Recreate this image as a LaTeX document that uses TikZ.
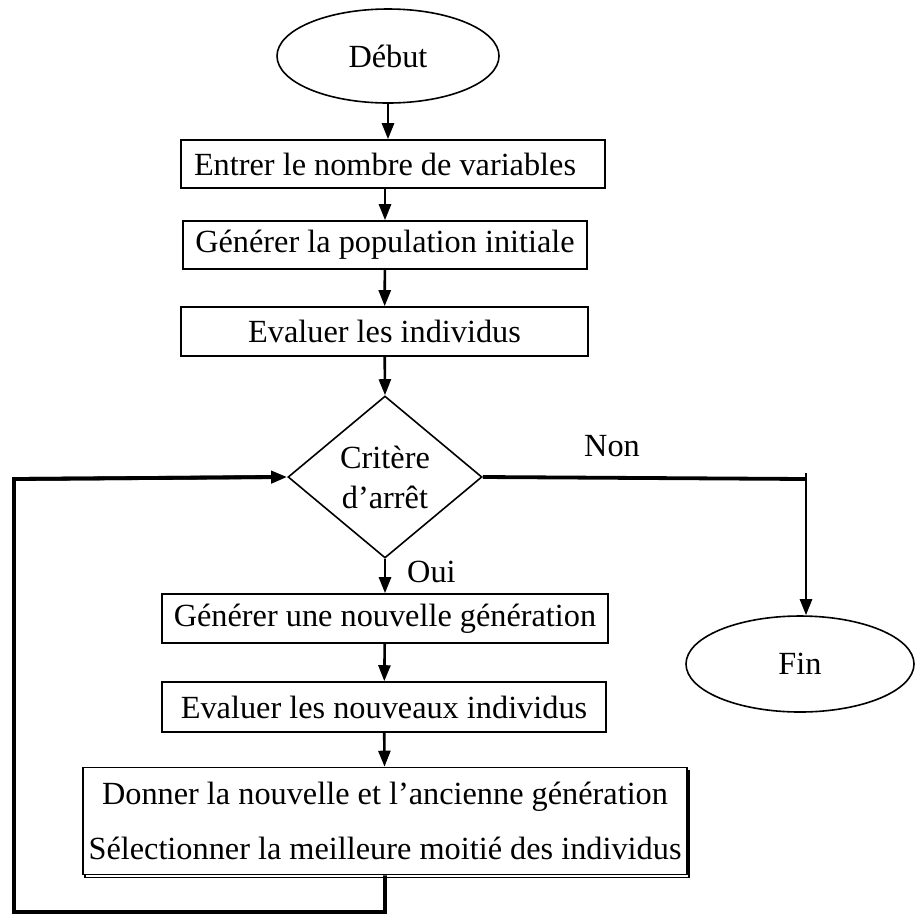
\documentclass[tikz,border=0pt]{standalone}
\usepackage{fontspec}
\setmainfont{Liberation Serif}
\usetikzlibrary{shapes.geometric,arrows.meta,shadows}
\begin{document}
\begin{tikzpicture}[x=1pt,y=-1pt,
  every node/.style={font=\fontsize{32.3}{40}\selectfont},
  procbox/.style={draw, line width=1.6pt, inner sep=0pt, fill=white},
  term/.style={draw, ellipse, line width=1.6pt, inner sep=0pt},
  flow/.style={line width=2.6pt, -{Triangle[length=16pt,width=12pt]}},
  thickflow/.style={line width=3.8pt, line join=miter},
  lbl/.style={inner sep=0pt}]
\useasboundingbox (0,0) rectangle (915,914);

\node[term, minimum width=222pt, minimum height=94pt] (debut) at (388,56) {Début};
\node[procbox, inner xsep=13pt, minimum height=48pt] (b1) at (393,164) {\makebox[398pt][l]{Entrer le nombre de variables}};
\node[procbox, minimum width=404pt, minimum height=48pt] (b2) at (385,245) {Générer la population initiale};
\node[procbox, minimum width=407pt, minimum height=49pt] (b3) at (384.5,331.5) {Evaluer les individus};
\node[draw, diamond, line width=1.6pt, inner sep=0pt, minimum width=194pt, minimum height=162pt, align=center] (crit) at (385,477) {Critère\\d’arrêt};
\node[procbox, minimum width=446pt, minimum height=49pt] (b4) at (385,618.5) {Générer une nouvelle génération};
\node[procbox, minimum width=444pt, minimum height=50pt] (b5) at (384,707) {Evaluer les nouveaux individus};
\node[procbox, minimum width=604pt, minimum height=107pt, align=center,
      font=\fontsize{32.3}{55}\selectfont,
      copy shadow={shadow xshift=2pt, shadow yshift=-3pt}] (b6) at (385,821)
      {Donner la nouvelle et l’ancienne génération\\Sélectionner la meilleure moitié des individus};
\node[term, minimum width=228pt, minimum height=96pt] (fin) at (800,664) {Fin};

\node[lbl] (non) at (612,446) {Non};
\node[lbl, anchor=west] (oui) at (407,572) {Oui};

\coordinate (c1) at (385,912);
\coordinate (c2) at (14,912);
\coordinate (c3) at (14,479);
\coordinate (c4) at (806,479);

\draw[flow] (debut) -- (debut |- b1.north);
\draw[flow] (385,0 |- b1.south) -- (b2);
\draw[flow] (b2) -- (b3);
\draw[flow] (b3) -- (crit.north);
\draw[flow] (crit.south) -- (b4);
\draw[flow] (b4) -- (b5);
\draw[flow] (b5) -- (b6);

\draw[thickflow] (b6.south) -- (c1) -- (c2) -- (c3) -- ([xshift=-14pt]crit.west);
\draw[flow, line width=3.8pt] (c3) -- (crit.west);
\draw[thickflow] (crit.east) -- (c4);
\draw[flow] ([yshift=-7pt]c4) -- (fin.north -| c4);
\draw[line width=2.6pt] ([yshift=-7pt]c4) -- ([yshift=6pt]c4);
\end{tikzpicture}
\end{document}
